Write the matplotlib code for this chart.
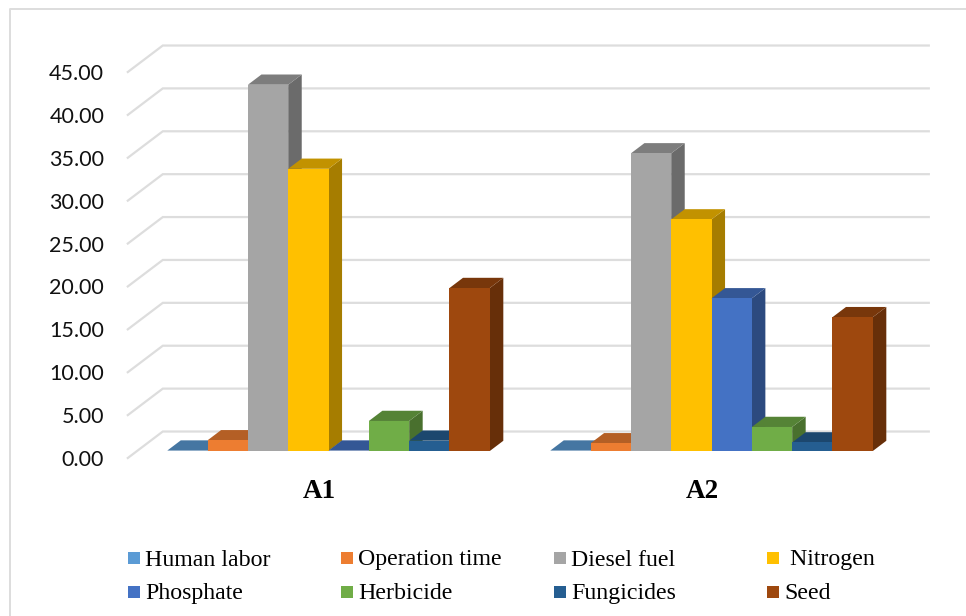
import numpy as np
import matplotlib
matplotlib.use("Agg")
import matplotlib.pyplot as plt
from matplotlib.colors import to_rgb
from matplotlib.patches import Rectangle

W, H = 966, 616
groups = ["A1", "A2"]
names = ["Human labor", "Operation time", "Diesel fuel", " Nitrogen",
         "Phosphate", "Herbicide", "Fungicides", "Seed"]
colors = ["#5B9BD5", "#ED7D31", "#A5A5A5", "#FFC000",
          "#4472C4", "#70AD47", "#255E91", "#9E480E"]
a1 = [0.05, 1.25, 42.7, 32.9, 0.05, 3.5, 1.2, 19.0]
a2 = [0.05, 0.9, 34.7, 27.0, 17.8, 2.8, 1.0, 15.6]
values = [a1, a2]
yticks = [0, 5, 10, 15, 20, 25, 30, 35, 40, 45]

# fake 3d: floor depth in data units, bars sit in the middle of it
DX, DY = 35 / 383, 26.5 / 8.58
D0, D1 = 0.264, 0.65
BW = 1 / 9.5

def shade(c, f):
    return tuple(v * f for v in to_rgb(c))

fig = plt.figure(figsize=(W / 100, H / 100), dpi=100)
ax = fig.add_axes([127.8 / W, 1 - 458 / H, 766 / W, 386 / H])
ax.set_xlim(-0.5, 1.5)
ax.set_ylim(0, 45)
ax.patch.set_visible(False)
for s in ax.spines.values():
    s.set_visible(False)

# back wall + side wall gridlines
for v in yticks:
    ax.plot([-0.5, -0.5 + DX, 1.5 + DX], [v, v + DY, v + DY], color="#DDDDDD",
            lw=1.6, clip_on=False, zorder=1, solid_joinstyle="miter")

for g, vals in enumerate(values):
    for j, (v, c) in enumerate(zip(vals, colors)):
        x0 = g + (j - 4) * BW + D0 * DX
        x1 = x0 + BW
        b = D0 * DY
        d = (D1 - D0)
        top = b + v
        # side face, top face, then the front
        ax.fill([x1, x1 + d * DX, x1 + d * DX, x1], [b, b + d * DY, top + d * DY, top],
                color=shade(c, 0.65), lw=0, clip_on=False, zorder=2 + j)
        ax.fill([x0, x1, x1 + d * DX, x0 + d * DX], [top, top, top + d * DY, top + d * DY],
                color=shade(c, 0.76), lw=0, clip_on=False, zorder=2 + j)
        ax.bar(x0, v, BW, bottom=b, align="edge", color=c, lw=0, clip_on=False, zorder=2 + j)

ax.set_yticks(yticks)
ax.set_yticklabels([f"{v:.2f}" for v in yticks], family="Lato", fontsize=15.5, color="#111111")
ax.set_xticks([0, 1])
ax.set_xticklabels(groups, family="Liberation Serif", fontweight="bold", fontsize=19.5, color="black")
ax.tick_params(axis="y", length=0, pad=17)
ax.tick_params(axis="x", length=0, pad=15)

# legend placed by hand, the columns in the original are evenly spaced
col_x = [128, 341, 554, 767]
row_y = [558, 591.5]
for k, (n, c) in enumerate(zip(names, colors)):
    r, col = divmod(k, 4)
    fig.add_artist(Rectangle((col_x[col] / W, 1 - (row_y[r] + 6) / H), 12 / W, 12 / H,
                             color=c, lw=0, transform=fig.transFigure))
    fig.text((col_x[col] + 17) / W, 1 - (row_y[r] + 2) / H, n, family="Liberation Serif",
             fontsize=17.2, va="center", ha="left", color="black")

# chart frame, only left and top show in the crop
fig.add_artist(plt.Line2D([10 / W, 10 / W, 1], [0, 1 - 9 / H, 1 - 9 / H], color="#DDDDDD",
                          lw=1.4, transform=fig.transFigure))

fig.savefig("out.png", dpi=100)
